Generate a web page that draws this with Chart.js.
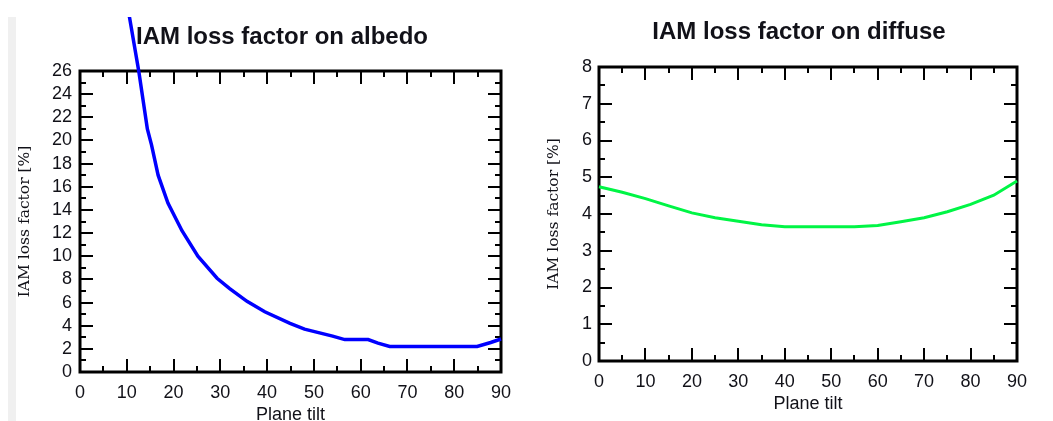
<!DOCTYPE html>
<html>
<head>
<meta charset="utf-8">
<script src="https://cdn.jsdelivr.net/npm/chart.js@4.4.1/dist/chart.umd.min.js"></script>
<style>
  html, body { margin: 0; padding: 0; background: #fff; width: 1053px; height: 421px; overflow: hidden; }
  #strip { position: absolute; left: 8px; top: 17px; width: 8px; height: 404px; background: #f0f0f0; }
  #wrapL { position: absolute; left: 0; top: 0; width: 560px; height: 426px; }
  #wrapR { position: absolute; left: 530px; top: 0; width: 530px; height: 415px; }
</style>
</head>
<body>
<div id="strip"></div>
<div id="wrapL"><canvas id="cL"></canvas></div>
<div id="wrapR"><canvas id="cR"></canvas></div>
<script>
// ---- data ----
const albedoTilt = [10, 10.6, 12.6, 14.4, 15.3, 16.7, 18.8, 21.8, 25.2, 29.3, 32, 35.7, 39.5, 44.9, 48, 54, 56.6, 61.6, 63.7, 66.2, 84.9, 87.8, 90];
const albedoLoss = [32.0, 30.6, 25.9, 21.0, 19.6, 17.0, 14.6, 12.2, 10.0, 8.1, 7.2, 6.1, 5.2, 4.2, 3.7, 3.1, 2.8, 2.8, 2.5, 2.2, 2.2, 2.55, 2.85];

const diffuseTilt = [0, 5, 10, 15, 20, 25, 30, 35, 40, 45, 50, 55, 60, 65, 70, 75, 80, 85, 90];
const diffuseLoss = [4.74, 4.59, 4.42, 4.22, 4.03, 3.90, 3.80, 3.71, 3.65, 3.65, 3.65, 3.65, 3.69, 3.79, 3.90, 4.06, 4.26, 4.51, 4.90];

const titles = ['IAM loss factor on albedo', 'IAM loss factor on diffuse'];
const xTitle = 'Plane tilt';
const yTitle = 'IAM loss factor [%]';

const tickFont = { family: "Arial, 'Liberation Sans', sans-serif", size: 18 };
const titleFont = { family: "Arial, 'Liberation Sans', sans-serif", size: 24, weight: 'bold' };
const xTitleFont = { family: "Arial, 'Liberation Sans', sans-serif", size: 18 };
const yTitleFont = { family: "'DejaVu Serif', serif", size: 15.5 };
const txtColor = '#111118';

// frame + inward major/minor ticks drawn from the chart's own scales
const frameTicks = {
  id: 'frameTicks',
  beforeDatasetsDraw(chart) {
    const { ctx, chartArea: a, scales: { x, y } } = chart;
    ctx.save();
    ctx.strokeStyle = '#000';
    ctx.lineWidth = 2;
    const seg = (x1, y1, x2, y2) => { ctx.beginPath(); ctx.moveTo(x1, y1); ctx.lineTo(x2, y2); ctx.stroke(); };
    const dx = (v, len) => { const p = Math.round(x.getPixelForValue(v)); seg(p, a.bottom, p, a.bottom - len); seg(p, a.top, p, a.top + len); };
    const dy = (v, len) => { const p = Math.round(y.getPixelForValue(v)); seg(a.left, p, a.left + len, p); seg(a.right, p, a.right - len, p); };
    x.ticks.forEach((t, i, arr) => { dx(t.value, 13); if (i < arr.length - 1) dx((t.value + arr[i + 1].value) / 2, 6); });
    y.ticks.forEach((t, i, arr) => { dy(t.value, 13); if (i < arr.length - 1) dy((t.value + arr[i + 1].value) / 2, 6); });
    ctx.lineWidth = 3;
    ctx.strokeRect(a.left, a.top, a.right - a.left, a.bottom - a.top);
    ctx.restore();
  }
};

function makeChart(id, cfg) {
  return new Chart(document.getElementById(id), {
    type: 'line',
    data: {
      datasets: [{
        data: cfg.tilt.map((t, i) => ({ x: t, y: cfg.loss[i] })),
        borderColor: cfg.color,
        borderWidth: cfg.lw,
        pointRadius: 0,
        tension: 0,
        fill: false,
        clip: cfg.clip,
        yAxisID: 'y'
      }]
    },
    options: {
      responsive: true,
      maintainAspectRatio: false,
      animation: false,
      layout: { padding: cfg.pad },
      plugins: {
        legend: { display: false },
        tooltip: { enabled: false },
        title: {
          display: true,
          text: cfg.title,
          font: titleFont,
          color: txtColor,
          fullSize: true,
          padding: cfg.titlePad
        }
      },
      scales: {
        x: {
          type: 'linear',
          min: 0, max: 90,
          ticks: { stepSize: 10, font: tickFont, color: txtColor, padding: 10, maxRotation: 0, autoSkip: false },
          grid: { display: false, drawTicks: false },
          border: { display: false },
          title: { display: true, text: xTitle, font: xTitleFont, color: txtColor, padding: { top: 0, bottom: 0 } },
          afterFit: s => { s.height = 54; }
        },
        y: {
          type: 'linear',
          position: 'left',
          min: 0, max: cfg.ymax,
          ticks: { stepSize: cfg.ystep, font: tickFont, color: txtColor, padding: cfg.ytickPad, autoSkip: false },
          grid: { display: false, drawTicks: false },
          border: { display: false },
          title: { display: true, text: yTitle, font: yTitleFont, color: txtColor, padding: { top: cfg.yTitlePadTop, bottom: 0 } },
          afterFit: s => { s.width = cfg.yWidth; }
        },
        // empty spacer on the right so the title centres where the reference puts it
        y2: {
          type: 'linear',
          position: 'right',
          min: 0, max: 1,
          ticks: { display: false },
          grid: { display: false, drawTicks: false },
          border: { display: false },
          afterFit: s => { s.width = cfg.rightGap; }
        }
      }
    },
    plugins: [frameTicks]
  });
}

makeChart('cL', {
  tilt: albedoTilt, loss: albedoLoss, color: '#0000ff', lw: 3.5,
  clip: { left: 2, top: 54, right: 4, bottom: 2 },
  title: titles[0],
  pad: { left: 8, right: 4, top: 8, bottom: 0 },
  titlePad: { top: 14.6, bottom: 19.6 },
  ymax: 26, ystep: 2, ytickPad: 8,
  yWidth: 72, yTitlePadTop: 7.7, rightGap: 55
});

makeChart('cR', {
  tilt: diffuseTilt, loss: diffuseLoss, color: '#00f545', lw: 3,
  clip: 4,
  title: titles[1],
  pad: { left: 8, right: 0, top: 6, bottom: 0 },
  titlePad: { top: 11.6, bottom: 20.6 },
  ymax: 8, ystep: 1, ytickPad: 7,
  yWidth: 61, yTitlePadTop: 6.2, rightGap: 43
});
</script>
</body>
</html>
